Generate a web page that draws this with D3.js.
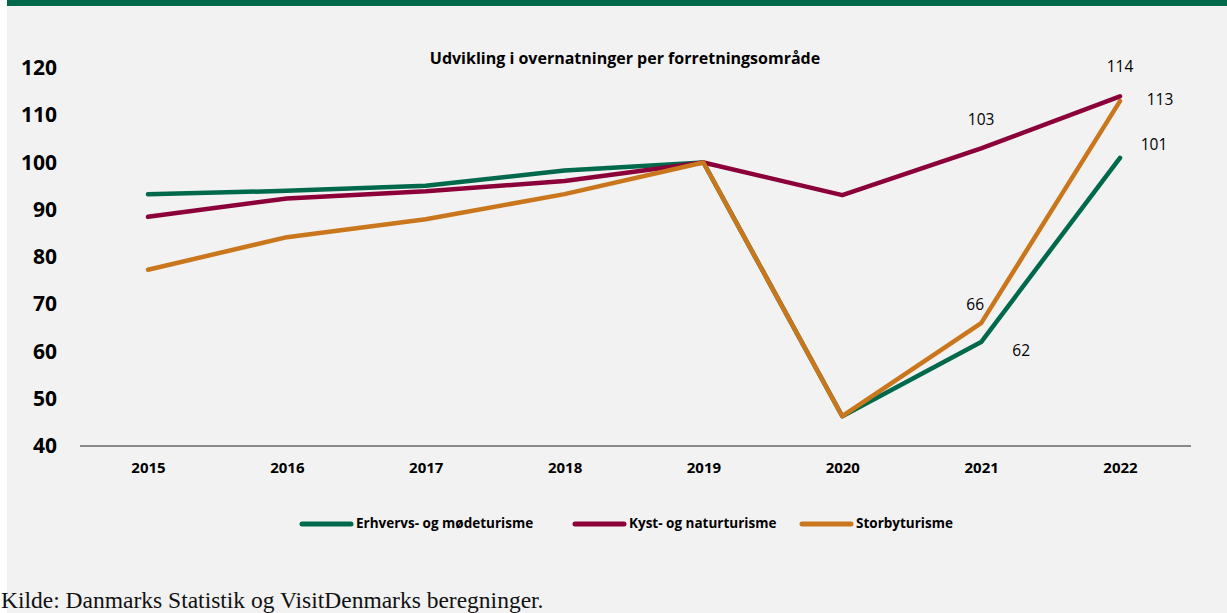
<!DOCTYPE html>
<html lang="da">
<head>
<meta charset="utf-8">
<title>Udvikling i overnatninger per forretningsområde</title>
<script src="https://cdnjs.cloudflare.com/ajax/libs/d3/7.8.5/d3.min.js"></script>
<style>
  html, body { margin: 0; padding: 0; background: #fff; }
  svg { display: block; }
</style>
</head>
<body>
<script>
// Data
var years = [2015, 2016, 2017, 2018, 2019, 2020, 2021, 2022];
var erhverv = [93.3, 94.0, 95.1, 98.3, 100, 46.3, 62, 101];
var kyst = [88.5, 92.4, 93.9, 96.1, 100, 93.1, 103, 114];
var storby = [77.3, 84.2, 88.0, 93.3, 100, 46.3, 66, 113];
var seriesNames = ["Erhvervs- og mødeturisme", "Kyst- og naturturisme", "Storbyturisme"];
var yTicks = [40, 50, 60, 70, 80, 90, 100, 110, 120];

// labels shown on the chart: [series index, year index, dx, dy]
var dataLabels = [
  [1, 6, 0, -27],
  [1, 7, 0, -28],
  [2, 7, 40, 0],
  [0, 7, 34, -12],
  [2, 6, -6, -17],
  [0, 6, 40, 10]
];

var w = 1227, h = 613;
var colors = ["#00694b", "#8c0039", "#c9761c"];
var series = [erhverv, kyst, storby];

var svg = d3.select("body").append("svg")
  .attr("width", w).attr("height", h);

// background + top band
svg.append("rect").attr("x", 7).attr("y", 0).attr("width", w - 7).attr("height", h).attr("fill", "#f2f2f2");
svg.append("rect").attr("x", 7).attr("y", 0).attr("width", w - 7).attr("height", 6).attr("fill", "#00694b");

var xScale = d3.scalePoint().domain(years).range([148, 1120]);
var yScale = d3.scaleLinear().domain([40, 120]).range([446, 68]);

// title
svg.append("text")
  .attr("x", 625).attr("y", 64)
  .attr("text-anchor", "middle")
  .style("font-family", "'Open Sans', sans-serif")
  .style("font-weight", "bold").style("font-size", "16px")
  .attr("fill", "#000")
  .text("Udvikling i overnatninger per forretningsområde");

// y axis (labels only)
var yAxis = d3.axisLeft(yScale).tickValues(yTicks).tickSize(0).tickPadding(0);
var gy = svg.append("g").attr("transform", "translate(57,0)").call(yAxis);
gy.select(".domain").remove();
gy.selectAll("text")
  .style("font-family", "'Open Sans', sans-serif")
  .style("font-weight", "bold").style("font-size", "21px")
  .attr("fill", "#000");

// x axis
var xAxis = d3.axisBottom(xScale).tickSize(0).tickPadding(16);
var gx = svg.append("g").attr("transform", "translate(0,446)").call(xAxis);
gx.select(".domain").remove();
gx.append("line")
  .attr("x1", 80).attr("x2", 1191)
  .attr("stroke", "#898989").attr("stroke-width", 2);
gx.selectAll("text")
  .style("font-family", "'Open Sans', sans-serif")
  .style("font-weight", "bold").style("font-size", "15px")
  .attr("fill", "#000");

// lines
var line = d3.line()
  .x((d, i) => xScale(years[i]))
  .y(d => yScale(d));

svg.selectAll("path.series")
  .data(series)
  .enter()
  .append("path")
  .attr("class", "series")
  .attr("d", line)
  .attr("fill", "none")
  .attr("stroke", (d, i) => colors[i])
  .attr("stroke-width", 4.5)
  .attr("stroke-linecap", "round")
  .attr("stroke-linejoin", "round");

// data labels
svg.selectAll("text.dlabel")
  .data(dataLabels)
  .enter()
  .append("text")
  .attr("class", "dlabel")
  .attr("x", d => xScale(years[d[1]]) + d[2])
  .attr("y", d => yScale(series[d[0]][d[1]]) + d[3])
  .attr("text-anchor", "middle")
  .attr("dominant-baseline", "middle")
  .style("font-family", "'Open Sans', sans-serif")
  .style("font-size", "15.5px")
  .attr("fill", "#000")
  .text(d => Math.round(series[d[0]][d[1]]));

// legend
var legendX = [300, 573, 800];
var lg = svg.selectAll("g.legend")
  .data(seriesNames)
  .enter()
  .append("g")
  .attr("class", "legend")
  .attr("transform", (d, i) => `translate(${legendX[i]},524)`);
lg.append("line")
  .attr("x1", 2).attr("x2", 51)
  .attr("stroke", (d, i) => colors[i])
  .attr("stroke-width", 5)
  .attr("stroke-linecap", "round");
lg.append("text")
  .attr("x", 56).attr("y", 0)
  .attr("dominant-baseline", "middle")
  .style("font-family", "'Open Sans', sans-serif")
  .style("font-weight", "bold").style("font-size", "13.5px")
  .attr("fill", "#000")
  .text(d => d);

// source
svg.append("text")
  .attr("x", 1).attr("y", 608)
  .style("font-family", "'Liberation Serif', serif")
  .style("font-size", "23.5px")
  .attr("fill", "#111")
  .text("Kilde: Danmarks Statistik og VisitDenmarks beregninger.");
</script>
</body>
</html>
